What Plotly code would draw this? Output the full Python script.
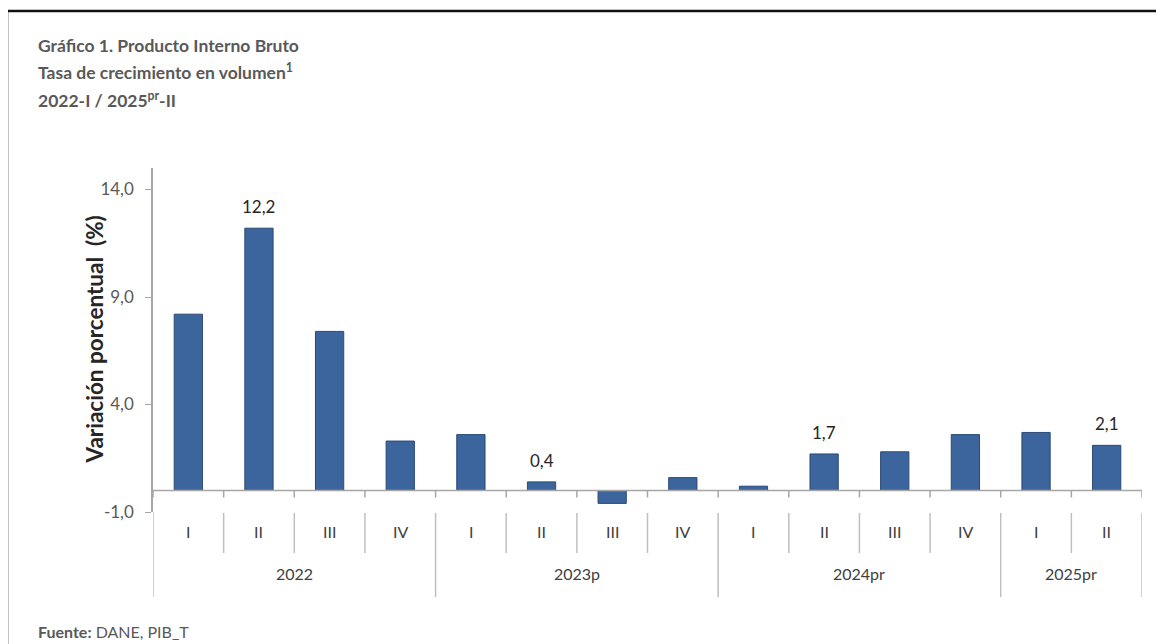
import plotly.graph_objects as go

# ── Data ─────────────────────────────────────────────────────────────────────
YEARS = ["2022", "2022", "2022", "2022",
         "2023p", "2023p", "2023p", "2023p",
         "2024pr", "2024pr", "2024pr", "2024pr",
         "2025pr", "2025pr"]
QUARTERS = ["I", "II", "III", "IV", "I", "II", "III", "IV",
            "I", "II", "III", "IV", "I", "II"]
GROWTH = [8.2, 12.2, 7.4, 2.3, 2.6, 0.4, -0.6, 0.6,
          0.2, 1.7, 1.8, 2.6, 2.7, 2.1]
SHOW_LABEL = [False, True, False, False, False, True, False, False,
              False, True, False, False, False, True]

Y_TICKS = [-1, 4, 9, 14]

# ── Theme ────────────────────────────────────────────────────────────────────
FONT = "Lato, 'Open Sans', sans-serif"
TITLE_GRAY = "#595959"
TICK_GRAY = "#595959"
AXIS_GRAY = "#a6a6a6"
BAR = "#3b659c"
BAR_EDGE = "#2a4a76"

# page has an 8px body margin; positions below are window pixels
OFF = 8
W, H = 1164 - OFF, 644 - OFF
PLOT_L, PLOT_R, PLOT_T, PLOT_B = 153, 1142, 168, 512
L, T = PLOT_L - OFF, PLOT_T - OFF
R, B = W - (PLOT_R - OFF), H - (PLOT_B - OFF)
PW, PH = PLOT_R - PLOT_L, PLOT_B - PLOT_T


def px(x):
    return (x - PLOT_L) / PW


def py(y):
    return (PLOT_B - y) / PH


def fmt(v):
    return f"{v:.1f}".replace(".", ",")


cats = [f"{y}-{q}" for y, q in zip(YEARS, QUARTERS)]
n = len(cats)

fig = go.Figure(
    go.Bar(
        x=cats,
        y=GROWTH,
        width=0.4,
        marker=dict(color=BAR, line=dict(color=BAR_EDGE, width=1)),
        hovertemplate="%{x}<br>%{y:.1f}%<extra></extra>",
    )
)

shapes = []
annotations = []

# horizontal axis at zero with small tick marks on boundaries
shapes.append(dict(type="line", xref="paper", yref="y", x0=0, x1=1, y0=0, y1=0,
                   line=dict(color=AXIS_GRAY, width=1.5)))
for i in range(n + 1):
    shapes.append(dict(type="line", xref="x", yref="y", ysizemode="pixel", yanchor=0,
                       x0=i - 0.5, x1=i - 0.5, y0=0, y1=-7,
                       line=dict(color=AXIS_GRAY, width=1.5)))

# separators of the category label block
for i in range(n + 1):
    is_year = i == 0 or i == n or QUARTERS[i] == "I"
    y0 = 0 if i == 0 else py(513)
    y1 = py(597) if is_year else py(553)
    shapes.append(dict(type="line", xref="x", yref="paper",
                       x0=i - 0.5, x1=i - 0.5, y0=y0, y1=y1,
                       line=dict(color="#bfbfbf", width=1.5)))

# quarter labels
for i, q in enumerate(QUARTERS):
    annotations.append(dict(x=i, y=py(543), xref="x", yref="paper", text=q,
                            showarrow=False, font=dict(size=16, color="#404040")))

# year labels centred under their quarters
groups = {}
for i, yr in enumerate(YEARS):
    groups.setdefault(yr, []).append(i)
for yr, idx in groups.items():
    annotations.append(dict(x=sum(idx) / len(idx), y=py(585), xref="x", yref="paper",
                            text=yr, showarrow=False,
                            font=dict(size=16, color="#404040")))

# value labels
for c, v, s in zip(cats, GROWTH, SHOW_LABEL):
    if s:
        annotations.append(dict(x=c, y=v, xref="x", yref="y", text=fmt(v),
                                showarrow=False, yanchor="bottom", yshift=9,
                                font=dict(size=17, color="#262626")))

# titles
title_lines = [
    "Gráfico 1. Producto Interno Bruto",
    "Tasa de crecimiento en volumen<sup>1</sup>",
    "2022-I / 2025<sup>pr</sup>-II",
]
for k, t in enumerate(title_lines):
    annotations.append(dict(x=px(36), y=py(45 + 27 * k), xref="paper", yref="paper",
                            text=f"<b>{t}</b>", showarrow=False,
                            xanchor="left", yanchor="middle",
                            font=dict(size=17.5, color=TITLE_GRAY)))

annotations.append(dict(x=px(78), y=py(340), xref="paper", yref="paper",
                        text="<b>Variación porcentual  (%)</b>", textangle=-90,
                        showarrow=False, font=dict(size=22.5, color="#262626")))

annotations.append(dict(x=px(36), y=py(631), xref="paper", yref="paper",
                        text="<b>Fuente:</b> DANE, PIB_T", showarrow=False,
                        xanchor="left", yanchor="middle",
                        font=dict(size=16, color=TITLE_GRAY)))

# outer frame (top and left edges)
shapes.append(dict(type="line", xref="paper", yref="paper",
                   x0=px(7), x1=px(1180), y0=py(11), y1=py(11),
                   line=dict(color="#111111", width=2.5)))
shapes.append(dict(type="line", xref="paper", yref="paper",
                   x0=px(7), x1=px(7), y0=py(11), y1=py(660),
                   line=dict(color="#111111", width=2.5)))

fig.update_layout(
    width=W,
    height=H,
    margin=dict(l=L, r=R, t=T, b=B, autoexpand=False),
    paper_bgcolor="white",
    plot_bgcolor="white",
    font=dict(family=FONT, color=TICK_GRAY),
    showlegend=False,
    shapes=shapes,
    annotations=annotations,
)
fig.update_xaxes(
    range=[-0.5, n - 0.5],
    showticklabels=False,
    showgrid=False,
    zeroline=False,
    showline=False,
    ticks="",
)
fig.update_yaxes(
    range=[-1, 15],
    tickvals=Y_TICKS,
    ticktext=[fmt(v) for v in Y_TICKS],
    showgrid=False,
    zeroline=False,
    showline=True,
    linecolor=AXIS_GRAY,
    linewidth=1.5,
    ticks="outside",
    ticklen=6,
    tickcolor=AXIS_GRAY,
    tickfont=dict(size=17, color=TICK_GRAY),
    ticklabelstandoff=8,
)

fig.write_html("out.html")
